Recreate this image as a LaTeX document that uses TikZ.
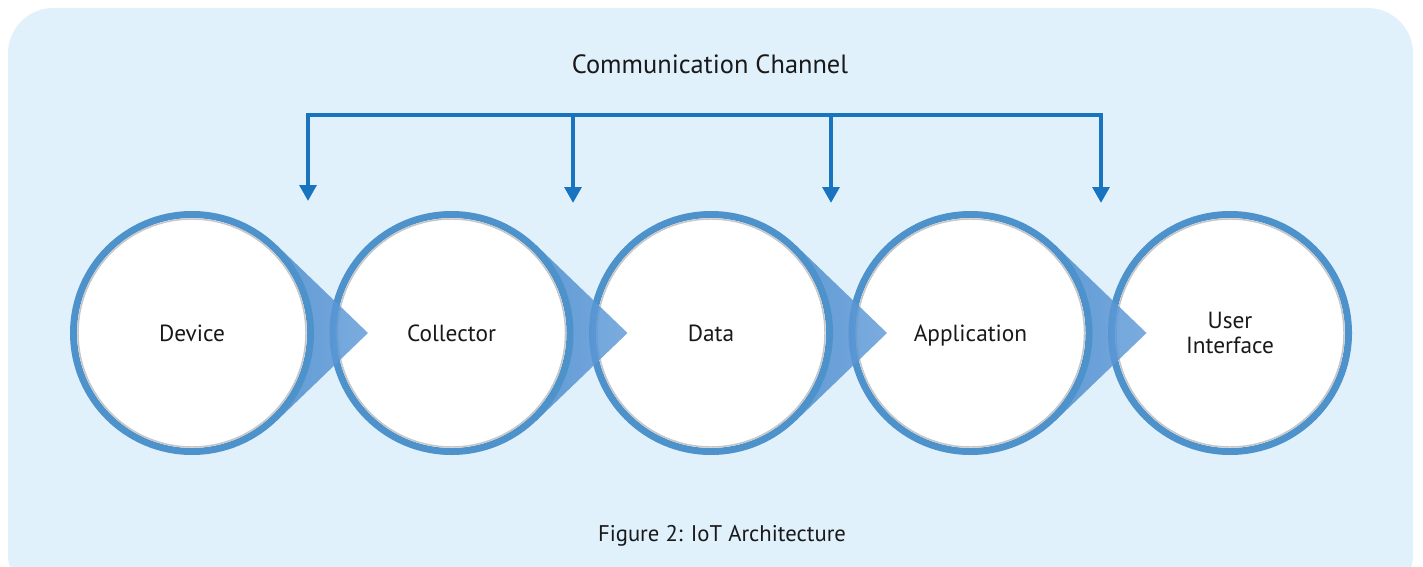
\documentclass[tikz,border=0pt]{standalone}
\usepackage{fontspec}
\setmainfont{PT Sans}
\usetikzlibrary{arrows.meta,calc}
\definecolor{bgblue}{RGB}{224,241,252}
\definecolor{ringblue}{RGB}{78,146,204}
\definecolor{ptrdark}{RGB}{52,122,192}
\definecolor{ptrlight}{RGB}{100,158,218}
\definecolor{arrowblue}{RGB}{24,116,190}
\tikzset{
  stage/.style={circle, draw=ringblue, fill=white, line width=5.25pt, minimum size=177.75pt, inner sep=0pt, font=\fontsize{17.5}{20}\selectfont, align=center, text=black!90},
  pointer/.style={left color=ptrdark, right color=ptrlight, fill opacity=0.85, draw=none},
  innershade/.style={draw=gray!45, line width=1.1pt},
  channel/.style={draw=arrowblue, line width=3.7pt},
  chanarrow/.style={channel, -{Triangle[width=12.5pt,length=12pt]}},
  label/.style={font=\fontsize{17}{20}\selectfont, text=black!90},
  biglabel/.style={font=\fontsize{19.8}{23}\selectfont, text=black!90}
}
\begin{document}
\begin{tikzpicture}[x=0.75pt,y=-0.75pt]
\useasboundingbox (0,0) rectangle (1423,567);
\fill[bgblue, rounded corners=34pt] (8,8) rectangle (1413,600);
% circles right to left, pointer of each circle drawn over the next one
\node[stage] (ui) at (1230,333) {User\\[-1pt]Interface};
\draw[innershade] (ui.center) circle[radius=114];
\foreach \name/\xc/\txt/\next in {app/970.5/Application/ui, data/711/Data/app, coll/451.5/Collector/data, dev/192/Device/coll}{
  \path[pointer] ([shift={(46:122)}]\xc,333) -- ([shift={(176,0)}]\xc,333) -- ([shift={(-46:122)}]\xc,333) -- (\xc,333) -- cycle;
  \node[stage, text depth=0pt] (\name) at (\xc,333) {\txt};
  \draw[innershade] (\name.center) circle[radius=114];
}
% communication channel
\node[biglabel] (title) at (710,64) {Communication Channel};
\node[label] (caption) at (722,536) {Figure 2: IoT Architecture};
\coordinate (b1) at (308,115);
\coordinate (b4) at (1101,115);
\coordinate (b2) at (573,115);
\coordinate (b3) at (831,115);
\coordinate (e1) at (308,201);
\coordinate (e2) at (573,203);
\coordinate (e3) at (831,203);
\coordinate (e4) at (1101,203);
\draw[channel, line cap=rect] (b1) -- (b4);
\draw[chanarrow] (b1) -- (e1);
\draw[chanarrow] (b2) -- (e2);
\draw[chanarrow] (b3) -- (e3);
\draw[chanarrow] (b4) -- (e4);
\end{tikzpicture}
\end{document}
